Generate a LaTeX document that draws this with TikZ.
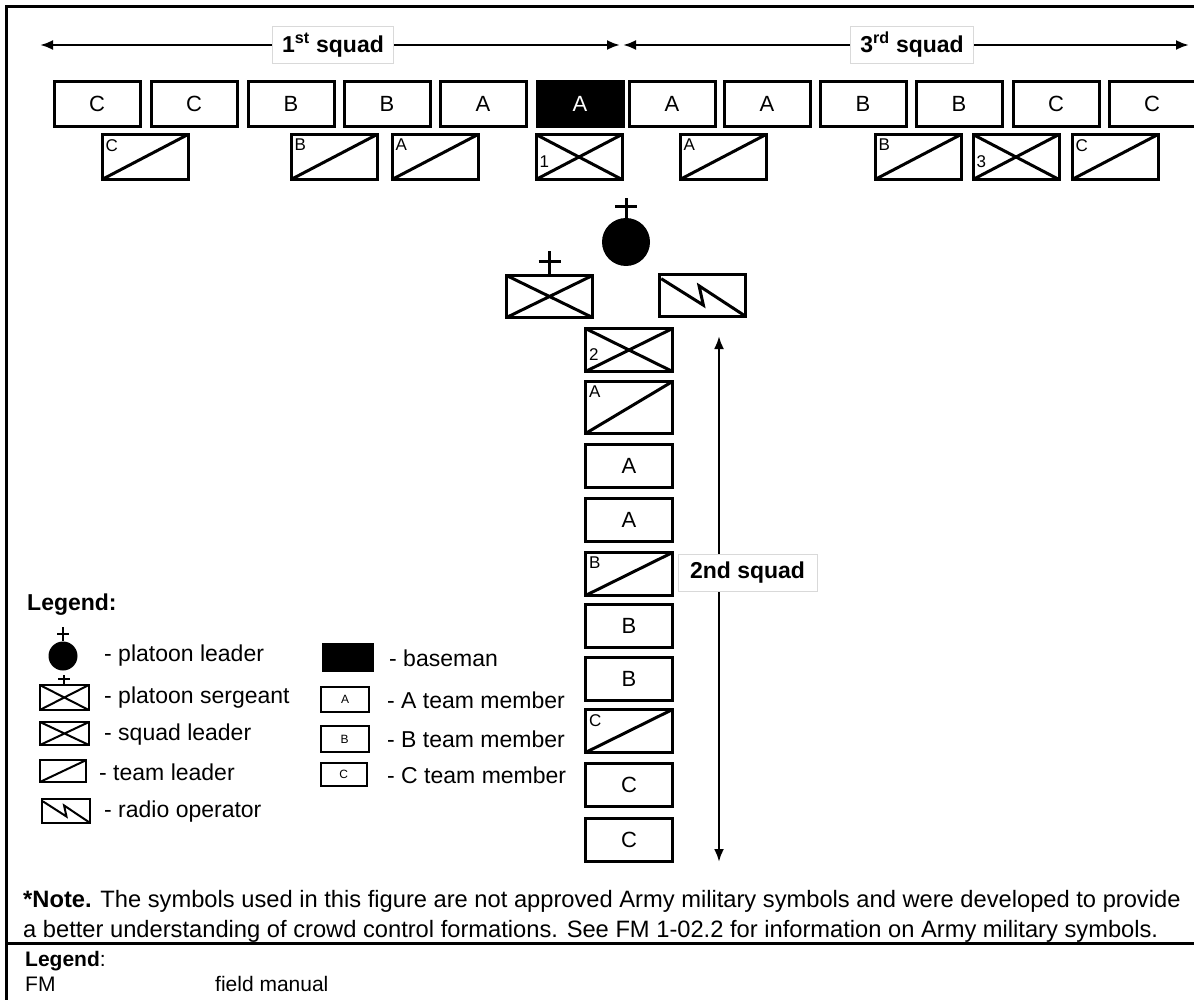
\documentclass[tikz,border=0pt]{standalone}
\usepackage{fontspec}
\setmainfont{Liberation Sans}
\usetikzlibrary{positioning, arrows.meta, calc}

\newcommand{\pxfont}[1]{\fontsize{#1}{#1}\selectfont}
% small cross on top of a leader symbol
\newcommand{\leadplus}[4][]{%
    \draw[#1] (#2.north) -- ++(0,-#3) coordinate (#2tip);
    \draw[#1] ($(#2tip)+(-#4,0.45*#3)$) -- ++(2*#4,0);
}

\tikzset{
  member/.style={rectangle, draw=black, line width=3pt, minimum width=86pt, minimum height=45pt, inner sep=0pt, font=\pxfont{22}},
  baseman/.style={member, fill=black, text=white},
  tlab/.style={font=\pxfont{17}, inner xsep=5pt, inner ysep=6pt},
  tleader/.style={member, label={[tlab, anchor=north west]north west:#1},
    path picture={\draw (path picture bounding box.south west) -- (path picture bounding box.north east);}},
  sqleader/.style={member, label={[tlab, anchor=west, yshift=-5pt]west:#1},
    path picture={\draw (path picture bounding box.south west) -- (path picture bounding box.north east)
      (path picture bounding box.north west) -- (path picture bounding box.south east);}},
  radio/.style={member, path picture={
    \path (path picture bounding box.north west) coordinate (pnw)
          (path picture bounding box.north east) coordinate (pne)
          (path picture bounding box.south west) coordinate (psw);
    \draw ($(pnw)!0.02!(pne)+(pnw)!0.10!(psw)-(pnw)$)
       -- ($(pnw)!0.51!(pne)+(pnw)!0.73!(psw)-(pnw)$)
       -- ($(pnw)!0.46!(pne)+(pnw)!0.27!(psw)-(pnw)$)
       -- ($(pnw)!0.99!(pne)+(pnw)!0.98!(psw)-(pnw)$);}},
  colbox/.style={minimum width=87pt, minimum height=43pt},
  legbox/.style={minimum width=48pt, minimum height=24pt, line width=2pt, font=\pxfont{12}},
  squadlabel/.style={fill=white, draw=black!15, line width=0.8pt, font=\bfseries\pxfont{23}, inner xsep=10pt, minimum height=37pt},
  squadspan/.style={line width=2.5pt, {Latex[length=13pt,width=10pt]}-{Latex[length=13pt,width=10pt]}},
  legtext/.style={anchor=west, inner sep=0pt, font=\pxfont{23}},
  notetext/.style={anchor=base west, inner sep=0pt, font=\pxfont{23.7}}
}

\begin{document}
\begin{tikzpicture}[x=1pt, y=-1pt]
    \useasboundingbox (0,0) rectangle (1194,1000);

    % frame
    \draw[line width=3pt] (1194,7) -- (6,7) -- (6,1000);
    \draw[line width=3pt] (6,943) -- (1194,943);

    % 1. squads 1 and 3 on line
    \coordinate (sq1w) at (40,45);
    \coordinate (sq1e) at (620,45);
    \coordinate (sq3w) at (623,45);
    \coordinate (sq3e) at (1189,45);
    \draw[squadspan] (sq1w) -- (sq1e);
    \draw[squadspan] (sq3w) -- (sq3e);
    \node[squadlabel] (sq1lab) at (333,45) {1\textsuperscript{st} squad};
    \node[squadlabel] (sq3lab) at (912,45) {3\textsuperscript{rd} squad};

    \foreach \x/\s/\t [count=\i] in {97/member/C, 194/member/C, 291/member/B, 387/member/B,
        483/member/A, 580/baseman/A, 672/member/A, 767/member/A,
        863/member/B, 959/member/B, 1056/member/C, 1152/member/C}
        \node[\s] (front\i) at (\x,104) {\t};

    % leaders behind the line
    \foreach \x/\s/\t [count=\i] in {145/tleader/C, 334/tleader/B, 435/tleader/A, 579/sqleader/1,
        723/tleader/A, 918/tleader/B, 1016/sqleader/3, 1115/tleader/C}
        \node[\s=\t] (lead\i) at (\x,157) {};

    % 2. platoon headquarters
    \node[circle, fill=black, minimum size=48pt, inner sep=0pt] (pl) at (626,242) {};
    \leadplus[line width=3pt]{pl}{20}{11}
    \node[sqleader=, minimum height=42pt] (psg) at (549.5,296.5) {};
    \leadplus[line width=3pt]{psg}{23}{11}
    \node[radio, minimum height=42pt] (ro) at (702.5,295.5) {};

    % 3. squad 2 in column
    \node[sqleader=2, colbox] (col1) at (629,350) {};
    \node[tleader=A, colbox, minimum height=52pt] (col2) at (629,407.5) {};
    \node[tleader=B, colbox] (col5) at (629,574) {};
    \node[tleader=C, colbox] (col8) at (629,731) {};
    \foreach \y/\t in {466/A, 519.5/A, 626/B, 678.5/B, 785/C, 839.5/C}
        \node[member, colbox] (col\t\y) at (629,\y) {\t};

    \coordinate (sq2n) at (719,336);
    \coordinate (sq2s) at (719,862);
    \draw[squadspan] (sq2n) -- (sq2s);
    \node[squadlabel, minimum width=139pt] (sq2lab) at (747.5,572.5) {2nd squad};

    % 4. legend
    \node[anchor=west, inner sep=0pt, font=\bfseries\pxfont{23}] (leghead) at (27,605) {Legend:};

    \node[circle, fill=black, minimum size=29pt, inner sep=0pt] (lgpl) at (63,656) {};
    \leadplus[line width=2pt]{lgpl}{14}{6}
    \node[sqleader=, legbox, minimum width=49pt, minimum height=25pt] (lgpsg) at (64.3,697.5) {};
    \leadplus[line width=2pt]{lgpsg}{9}{6}
    \node[sqleader=, legbox, minimum width=49pt, minimum height=23pt] (lgsl) at (64.5,733.5) {};
    \node[tleader=, legbox, minimum width=46.5pt, minimum height=22pt] (lgtl) at (63.2,771) {};
    \node[radio, legbox, minimum width=48pt] (lgro) at (66,811) {};

    \node[legtext] (txpl) at (104,656) {- platoon leader};
    \node[legtext] (txpsg) at (104,698) {- platoon sergeant};
    \node[legtext] (txsl) at (104,735) {- squad leader};
    \node[legtext] (txtl) at (99,772) {- team leader};
    \node[legtext] (txro) at (104,812) {- radio operator};

    \node[baseman, legbox, minimum width=49.5pt, minimum height=27pt] (lgbase) at (348,657.5) {};
    \node[member, legbox, minimum width=48.5pt, minimum height=25pt] (lga) at (345,699.5) {A};
    \node[member, legbox, minimum width=48pt, minimum height=26pt] (lgb) at (344.6,739) {B};
    \node[member, legbox, minimum width=46.4pt, minimum height=23pt] (lgc) at (343.8,774.5) {C};

    \node[legtext] (txbase) at (389,658) {- baseman};
    \node[legtext] (txa) at (387,700) {- A team member};
    \node[legtext] (txb) at (387,739) {- B team member};
    \node[legtext] (txc) at (387,775) {- C team member};

    % 5. note and abbreviations
    \node[notetext] (note1) at (23,907) {\textbf{*Note.} The symbols used in this figure are not approved Army military symbols and were developed to provide};
    \node[notetext] (note2) at (23,937) {a better understanding of crowd control formations. See FM 1-02.2 for information on Army military symbols.};
    \node[notetext, font=\pxfont{21}] (abbrhead) at (25,966) {\textbf{Legend}:};
    \node[notetext, font=\pxfont{21}] (abbrfm) at (25,991) {FM};
    \node[notetext, font=\pxfont{21}] (abbrfmtx) at (215,991) {field manual};
\end{tikzpicture}
\end{document}
